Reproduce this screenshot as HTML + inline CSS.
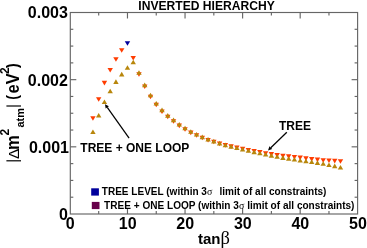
<!DOCTYPE html>
<html><head><meta charset="utf-8"><title>Inverted hierarchy</title>
<style>html,body{margin:0;padding:0;background:#fff;}svg{display:block;}text{font-family:"Liberation Sans",sans-serif;font-weight:bold;fill:#000;}.sym{font-family:"Liberation Serif",serif;font-weight:normal;}.reg{font-family:"Liberation Sans",sans-serif;font-weight:normal;}</style></head><body>
<svg width="367" height="248" viewBox="0 0 367 248" style="will-change:transform">
<rect width="367" height="248" fill="#fff"/>
<g stroke="#666666" stroke-width="1.15" fill="none">
<rect x="70.3" y="12.5" width="287.30" height="201.50"/>
<line x1="98.69" y1="214.0" x2="98.69" y2="211.0"/>
<line x1="98.69" y1="12.5" x2="98.69" y2="15.5"/>
<line x1="127.47" y1="214.0" x2="127.47" y2="208.0"/>
<line x1="127.47" y1="12.5" x2="127.47" y2="18.5"/>
<line x1="156.25" y1="214.0" x2="156.25" y2="211.0"/>
<line x1="156.25" y1="12.5" x2="156.25" y2="15.5"/>
<line x1="185.04" y1="214.0" x2="185.04" y2="208.0"/>
<line x1="185.04" y1="12.5" x2="185.04" y2="18.5"/>
<line x1="213.82" y1="214.0" x2="213.82" y2="211.0"/>
<line x1="213.82" y1="12.5" x2="213.82" y2="15.5"/>
<line x1="242.61" y1="214.0" x2="242.61" y2="208.0"/>
<line x1="242.61" y1="12.5" x2="242.61" y2="18.5"/>
<line x1="271.39" y1="214.0" x2="271.39" y2="211.0"/>
<line x1="271.39" y1="12.5" x2="271.39" y2="15.5"/>
<line x1="300.18" y1="214.0" x2="300.18" y2="208.0"/>
<line x1="300.18" y1="12.5" x2="300.18" y2="18.5"/>
<line x1="328.97" y1="214.0" x2="328.97" y2="211.0"/>
<line x1="328.97" y1="12.5" x2="328.97" y2="15.5"/>
<line x1="70.3" y1="197.21" x2="73.3" y2="197.21"/>
<line x1="357.6" y1="197.21" x2="354.6" y2="197.21"/>
<line x1="70.3" y1="180.42" x2="73.3" y2="180.42"/>
<line x1="357.6" y1="180.42" x2="354.6" y2="180.42"/>
<line x1="70.3" y1="163.62" x2="73.3" y2="163.62"/>
<line x1="357.6" y1="163.62" x2="354.6" y2="163.62"/>
<line x1="70.3" y1="146.83" x2="76.3" y2="146.83"/>
<line x1="357.6" y1="146.83" x2="351.6" y2="146.83"/>
<line x1="70.3" y1="130.04" x2="73.3" y2="130.04"/>
<line x1="357.6" y1="130.04" x2="354.6" y2="130.04"/>
<line x1="70.3" y1="113.25" x2="73.3" y2="113.25"/>
<line x1="357.6" y1="113.25" x2="354.6" y2="113.25"/>
<line x1="70.3" y1="96.46" x2="73.3" y2="96.46"/>
<line x1="357.6" y1="96.46" x2="354.6" y2="96.46"/>
<line x1="70.3" y1="79.67" x2="76.3" y2="79.67"/>
<line x1="357.6" y1="79.67" x2="351.6" y2="79.67"/>
<line x1="70.3" y1="62.88" x2="73.3" y2="62.88"/>
<line x1="357.6" y1="62.88" x2="354.6" y2="62.88"/>
<line x1="70.3" y1="46.08" x2="73.3" y2="46.08"/>
<line x1="357.6" y1="46.08" x2="354.6" y2="46.08"/>
<line x1="70.3" y1="29.29" x2="73.3" y2="29.29"/>
<line x1="357.6" y1="29.29" x2="354.6" y2="29.29"/>
</g>
<polygon points="90.23,116.20 95.63,116.20 92.93,120.80" fill="#ff3c00"/>
<polygon points="95.98,97.20 101.39,97.20 98.69,101.80" fill="#ff3c00"/>
<polygon points="101.74,80.80 107.14,80.80 104.44,85.40" fill="#ff3c00"/>
<polygon points="107.50,67.90 112.90,67.90 110.20,72.50" fill="#ff3c00"/>
<polygon points="113.26,57.20 118.66,57.20 115.96,61.80" fill="#ff3c00"/>
<polygon points="119.01,48.20 124.41,48.20 121.71,52.80" fill="#ff3c00"/>
<polygon points="130.53,55.90 135.93,55.90 133.23,60.50" fill="#ff3c00"/>
<polygon points="136.28,72.15 141.68,72.15 138.98,76.75" fill="#ff3c00"/>
<polygon points="142.04,84.45 147.44,84.45 144.74,89.05" fill="#ff3c00"/>
<polygon points="147.80,94.64 153.20,94.64 150.50,99.24" fill="#ff3c00"/>
<polygon points="153.56,102.72 158.95,102.72 156.25,107.32" fill="#ff3c00"/>
<polygon points="159.31,109.40 164.71,109.40 162.01,114.00" fill="#ff3c00"/>
<polygon points="165.07,114.77 170.47,114.77 167.77,119.37" fill="#ff3c00"/>
<polygon points="170.83,119.24 176.23,119.24 173.53,123.84" fill="#ff3c00"/>
<polygon points="176.58,123.60 181.98,123.60 179.28,128.20" fill="#ff3c00"/>
<polygon points="182.34,127.25 187.74,127.25 185.04,131.85" fill="#ff3c00"/>
<polygon points="188.10,130.60 193.50,130.60 190.80,135.20" fill="#ff3c00"/>
<polygon points="193.85,133.24 199.25,133.24 196.55,137.84" fill="#ff3c00"/>
<polygon points="199.61,135.67 205.01,135.67 202.31,140.27" fill="#ff3c00"/>
<polygon points="205.37,137.90 210.77,137.90 208.07,142.50" fill="#ff3c00"/>
<polygon points="211.12,139.73 216.52,139.73 213.82,144.33" fill="#ff3c00"/>
<polygon points="216.88,141.54 222.28,141.54 219.58,146.14" fill="#ff3c00"/>
<polygon points="222.64,143.05 228.04,143.05 225.34,147.65" fill="#ff3c00"/>
<polygon points="228.40,144.36 233.80,144.36 231.10,148.96" fill="#ff3c00"/>
<polygon points="234.15,145.55 239.55,145.55 236.85,150.15" fill="#ff3c00"/>
<polygon points="239.91,146.75 245.31,146.75 242.61,151.35" fill="#ff3c00"/>
<polygon points="245.67,147.93 251.07,147.93 248.37,152.53" fill="#ff3c00"/>
<polygon points="251.42,149.01 256.82,149.01 254.12,153.61" fill="#ff3c00"/>
<polygon points="257.18,149.88 262.58,149.88 259.88,154.48" fill="#ff3c00"/>
<polygon points="262.94,151.15 268.34,151.15 265.64,155.75" fill="#ff3c00"/>
<polygon points="268.69,152.11 274.09,152.11 271.39,156.71" fill="#ff3c00"/>
<polygon points="274.45,153.06 279.85,153.06 277.15,157.66" fill="#ff3c00"/>
<polygon points="280.21,153.81 285.61,153.81 282.91,158.41" fill="#ff3c00"/>
<polygon points="285.97,154.35 291.37,154.35 288.67,158.95" fill="#ff3c00"/>
<polygon points="291.72,154.99 297.12,154.99 294.42,159.59" fill="#ff3c00"/>
<polygon points="297.48,155.62 302.88,155.62 300.18,160.22" fill="#ff3c00"/>
<polygon points="303.24,156.34 308.64,156.34 305.94,160.94" fill="#ff3c00"/>
<polygon points="308.99,157.06 314.39,157.06 311.69,161.66" fill="#ff3c00"/>
<polygon points="314.75,157.57 320.15,157.57 317.45,162.17" fill="#ff3c00"/>
<polygon points="320.51,158.18 325.91,158.18 323.21,162.78" fill="#ff3c00"/>
<polygon points="326.27,158.52 331.67,158.52 328.97,163.12" fill="#ff3c00"/>
<polygon points="332.02,158.87 337.42,158.87 334.72,163.47" fill="#ff3c00"/>
<polygon points="337.78,159.20 343.18,159.20 340.48,163.80" fill="#ff3c00"/>
<polygon points="90.23,134.00 95.63,134.00 92.93,129.40" fill="#b8860b"/>
<polygon points="95.98,117.60 101.39,117.60 98.69,113.00" fill="#b8860b"/>
<polygon points="101.74,104.10 107.14,104.10 104.44,99.50" fill="#b8860b"/>
<polygon points="107.50,93.30 112.90,93.30 110.20,88.70" fill="#b8860b"/>
<polygon points="113.26,83.90 118.66,83.90 115.96,79.30" fill="#b8860b"/>
<polygon points="119.01,76.40 124.41,76.40 121.71,71.80" fill="#b8860b"/>
<polygon points="124.77,69.80 130.17,69.80 127.47,65.20" fill="#b8860b"/>
<polygon points="130.53,64.30 135.93,64.30 133.23,59.70" fill="#b8860b"/>
<polygon points="136.28,74.85 141.68,74.85 138.98,70.25" fill="#b8860b"/>
<polygon points="142.04,87.15 147.44,87.15 144.74,82.55" fill="#b8860b"/>
<polygon points="147.80,97.36 153.20,97.36 150.50,92.76" fill="#b8860b"/>
<polygon points="153.56,105.48 158.95,105.48 156.25,100.88" fill="#b8860b"/>
<polygon points="159.31,112.20 164.71,112.20 162.01,107.60" fill="#b8860b"/>
<polygon points="165.07,117.63 170.47,117.63 167.77,113.03" fill="#b8860b"/>
<polygon points="170.83,122.16 176.23,122.16 173.53,117.56" fill="#b8860b"/>
<polygon points="176.58,126.60 181.98,126.60 179.28,122.00" fill="#b8860b"/>
<polygon points="182.34,130.35 187.74,130.35 185.04,125.75" fill="#b8860b"/>
<polygon points="188.10,133.80 193.50,133.80 190.80,129.20" fill="#b8860b"/>
<polygon points="193.85,136.56 199.25,136.56 196.55,131.96" fill="#b8860b"/>
<polygon points="199.61,139.13 205.01,139.13 202.31,134.53" fill="#b8860b"/>
<polygon points="205.37,141.50 210.77,141.50 208.07,136.90" fill="#b8860b"/>
<polygon points="211.12,143.47 216.52,143.47 213.82,138.87" fill="#b8860b"/>
<polygon points="216.88,145.46 222.28,145.46 219.58,140.86" fill="#b8860b"/>
<polygon points="222.64,147.15 228.04,147.15 225.34,142.55" fill="#b8860b"/>
<polygon points="228.40,148.64 233.80,148.64 231.10,144.04" fill="#b8860b"/>
<polygon points="234.15,150.05 239.55,150.05 236.85,145.45" fill="#b8860b"/>
<polygon points="239.91,151.45 245.31,151.45 242.61,146.85" fill="#b8860b"/>
<polygon points="245.67,152.87 251.07,152.87 248.37,148.27" fill="#b8860b"/>
<polygon points="251.42,154.19 256.82,154.19 254.12,149.59" fill="#b8860b"/>
<polygon points="257.18,155.32 262.58,155.32 259.88,150.72" fill="#b8860b"/>
<polygon points="262.94,156.55 268.34,156.55 265.64,151.95" fill="#b8860b"/>
<polygon points="268.69,157.69 274.09,157.69 271.39,153.09" fill="#b8860b"/>
<polygon points="274.45,158.84 279.85,158.84 277.15,154.24" fill="#b8860b"/>
<polygon points="280.21,159.89 285.61,159.89 282.91,155.29" fill="#b8860b"/>
<polygon points="285.97,160.75 291.37,160.75 288.67,156.15" fill="#b8860b"/>
<polygon points="291.72,161.61 297.12,161.61 294.42,157.01" fill="#b8860b"/>
<polygon points="297.48,162.48 302.88,162.48 300.18,157.88" fill="#b8860b"/>
<polygon points="303.24,163.36 308.64,163.36 305.94,158.76" fill="#b8860b"/>
<polygon points="308.99,163.99 314.39,163.99 311.69,159.39" fill="#b8860b"/>
<polygon points="314.75,164.88 320.15,164.88 317.45,160.28" fill="#b8860b"/>
<polygon points="320.51,165.87 325.91,165.87 323.21,161.27" fill="#b8860b"/>
<polygon points="326.27,166.98 331.67,166.98 328.97,162.38" fill="#b8860b"/>
<polygon points="332.02,168.18 337.42,168.18 334.72,163.58" fill="#b8860b"/>
<polygon points="337.78,169.50 343.18,169.50 340.48,164.90" fill="#b8860b"/>
<polygon points="124.77,41.20 130.17,41.20 127.47,45.80" fill="#00009c"/>
<g style="mix-blend-mode:multiply">
<text x="70.10" y="228.8" font-size="16" text-anchor="middle">0</text>
<text x="127.67" y="228.8" font-size="16" text-anchor="middle">10</text>
<text x="185.24" y="228.8" font-size="16" text-anchor="middle">20</text>
<text x="242.81" y="228.8" font-size="16" text-anchor="middle">30</text>
<text x="300.38" y="228.8" font-size="16" text-anchor="middle">40</text>
<text x="357.95" y="228.8" font-size="16" text-anchor="middle">50</text>
<text x="67.9" y="219.90" font-size="16" text-anchor="end">0</text>
<text x="69.0" y="152.73" font-size="16" text-anchor="end">0.001</text>
<text x="67.9" y="85.57" font-size="16" text-anchor="end">0.002</text>
<text x="67.9" y="18.40" font-size="16" text-anchor="end">0.003</text>
<text x="138.3" y="9.7" font-size="12.1">INVERTED HIERARCHY</text>
<text x="198" y="244" font-size="15">tan<tspan class="sym" font-size="18.5">β</tspan></text>
<g transform="translate(18.7,170) rotate(-90)">
<line x1="9.2" y1="-12.3" x2="9.2" y2="2.3" stroke="#000" stroke-width="1.2"/>
<text class="reg" x="10.9" y="0" font-size="15.5">Δ</text>
<text transform="translate(20.0,0) scale(1,1.1)" font-size="16.5">m</text>
<text x="34.5" y="-10.0" font-size="12">2</text>
<text x="42.4" y="5.7" font-size="11">atm</text>
<line x1="64" y1="-12.3" x2="64" y2="2.3" stroke="#000" stroke-width="1.2"/>
<text transform="translate(70.2,-1.2) scale(0.85,1.05)" font-size="16.5">(</text>
<text transform="translate(76.5,0) scale(1,1.1)" font-size="16.5">eV</text>
<text x="96.1" y="-10.0" font-size="12">2</text>
<text transform="translate(102.0,-1.2) scale(0.85,1.05)" font-size="16.5">)</text>
</g>
<text x="80.3" y="151.6" font-size="12">TREE + ONE LOOP</text>
<text x="279" y="130.1" font-size="12">TREE</text>
<line x1="129.10" y1="138.10" x2="107.26" y2="107.48" stroke="#000" stroke-width="1.25"/><polygon points="105.00,104.30 108.85,106.34 105.68,108.61" fill="#000"/>
<line x1="286.80" y1="132.30" x2="270.81" y2="147.70" stroke="#000" stroke-width="1.25"/><polygon points="268.00,150.40 269.46,146.29 272.16,149.10" fill="#000"/>
<rect x="91.2" y="188.3" width="7.7" height="7.3" fill="#00009c"/>
<rect x="91.8" y="201.9" width="7.7" height="7.2" fill="#66004a"/>
<text transform="translate(101.8,195.3) scale(0.913,1)" font-size="11">TREE LEVEL (within 3<tspan class="sym">σ</tspan></text>
<text transform="translate(326.4,195.3) scale(0.913,1)" font-size="11" text-anchor="end">limit of all constraints)</text>
<text transform="translate(104.1,208.8) scale(0.916,1)" font-size="11">TREE + ONE LOOP (within 3<tspan class="sym">σ</tspan> limit of all constraints)</text>
</g>
</svg></body></html>
